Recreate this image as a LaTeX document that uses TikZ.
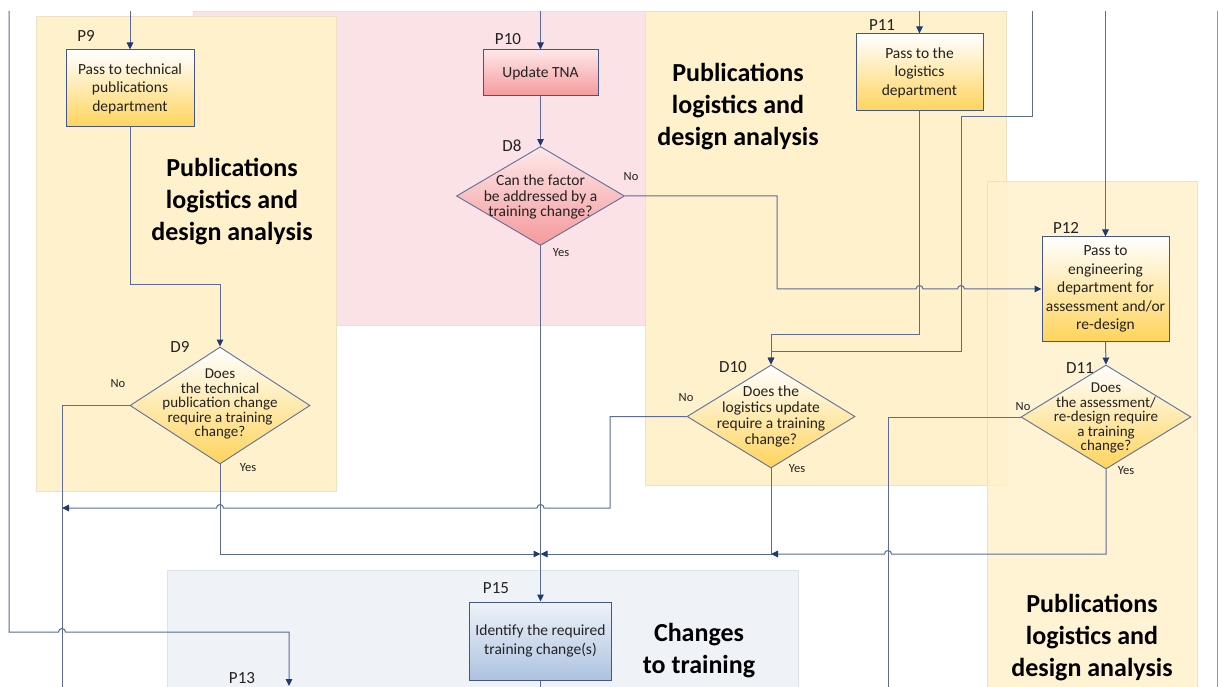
\documentclass[tikz,border=0pt]{standalone}
\usepackage{fontspec}
\setmainfont{Carlito}
\usetikzlibrary{shapes.geometric,arrows.meta}

\definecolor{bgyellow}{HTML}{FFF1CC}
\definecolor{bgpink}{HTML}{FBE2E6}
\definecolor{bgblue}{HTML}{EFF3F8}
\definecolor{edgeyellow}{HTML}{EDE1C3}
\definecolor{edgepink}{HTML}{F2DADD}
\definecolor{edgeblue}{HTML}{DDE2E8}
\definecolor{boxline}{HTML}{42568C}
\definecolor{flowline}{HTML}{5B6B9A}
\definecolor{tipcol}{HTML}{1F3A70}
\definecolor{goldlo}{HTML}{FFD45C}
\definecolor{pinklo}{HTML}{F5999B}
\definecolor{pinkhi}{HTML}{FDE8E9}
\definecolor{bluelo}{HTML}{ADC2E0}
\definecolor{bluehi}{HTML}{EEF3F9}
\definecolor{inktext}{HTML}{222222}

\begin{document}
\begin{tikzpicture}[x=1pt,y=-1pt,
  flow/.style={draw=flowline, line width=1pt},
  arr/.style={flow, -{Triangle[length=7pt,width=6.5pt,color=tipcol]}},
  procbox/.style={rectangle, draw=boxline, line width=1pt, inner sep=0pt,
    align=center, text=inktext, font=\fontsize{15.5}{18.5}\selectfont},
  decbox/.style={diamond, draw=boxline!85, line width=0.9pt, inner sep=0pt},
  dectext/.style={align=center, inner sep=0pt, text=inktext},
  goldfill/.style={top color=white, bottom color=goldlo},
  rosefill/.style={top color=pinkhi, bottom color=pinklo},
  bluefill/.style={top color=bluehi, bottom color=bluelo},
  idtag/.style={inner sep=0pt, text=inktext, font=\fontsize{17}{17}\selectfont},
  answer/.style={inner sep=0pt, text=inktext, font=\fontsize{12.5}{12.5}\selectfont},
  areatitle/.style={align=center, inner sep=0pt, font=\bfseries\fontsize{26}{32}\selectfont},
]
% page
\fill[white] (0,0) rectangle (1219,687);
\useasboundingbox (0,0) rectangle (1219,687);
\clip (0,0) rectangle (1219,687);

% swimlane areas
\filldraw[fill=bgpink, draw=edgepink] (193,11) rectangle (645,325);
\filldraw[fill=bgyellow, draw=edgeyellow] (36,16) rectangle (336,491);
\filldraw[fill=bgyellow, draw=edgeyellow] (645,11) rectangle (1006,485);
\filldraw[fill=bgyellow, fill opacity=0.85, draw=edgeyellow] (987,181) rectangle (1197,700);
\filldraw[fill=bgblue, draw=edgeblue] (167,570) rectangle (798,700);

% area titles
\node[areatitle] (ta) at (232,202) {Publications\\logistics and\\design analysis};
\node[areatitle] (tb) at (738,107) {Publications\\logistics and\\design analysis};
\node[areatitle] (tc) at (1092,638) {Publications\\logistics and\\design analysis};
\node[areatitle] (td) at (699,651) {Changes\\to training};

% process boxes
\node[procbox, goldfill, minimum width=128, minimum height=77] (p9) at (130,88.5)
  {Pass to technical\\publications\\department};
\node[procbox, rosefill, minimum width=115, minimum height=46] (p10) at (540.5,73)
  {Update TNA};
\node[procbox, goldfill, minimum width=127, minimum height=77] (p11) at (919.5,72.5)
  {Pass to the\\logistics\\department};
\node[procbox, goldfill, minimum width=127, minimum height=104] (p12) at (1105.5,289)
  {Pass to\\engineering\\department for\\assessment and/or\\re-design};
\node[procbox, bluefill, minimum width=142, minimum height=78] (p15) at (540.5,641)
  {Identify the required\\training change(s)};

% decisions
\node[decbox, rosefill, minimum width=168, minimum height=99] (d8) at (540.5,196) {};
\node[dectext, font=\fontsize{15.5}{15.5}\selectfont] (d8t) at (540.5,197)
  {Can the factor\\be addressed by a\\training change?};
\node[decbox, goldfill, minimum width=180, minimum height=117] (d9) at (220,405.5) {};
\node[dectext, font=\fontsize{15}{14.5}\selectfont] (d9t) at (220,404)
  {Does\\the technical\\publication change\\require a training\\change?};
\node[decbox, goldfill, minimum width=168, minimum height=103] (d10) at (771,416.5) {};
\node[dectext, font=\fontsize{15.5}{16}\selectfont] (d10t) at (771,416)
  {Does the\\logistics update\\require a training\\change?};
\node[decbox, goldfill, minimum width=170, minimum height=104] (d11) at (1106,417) {};
\node[dectext, font=\fontsize{15}{14.5}\selectfont] (d11t) at (1106,418)
  {Does\\the assessment/\\re-design require\\a training\\change?};

% identifiers
\node[idtag] (l9) at (86,36) {P9};
\node[idtag] (l10) at (508,39) {P10};
\node[idtag] (l11) at (882,25) {P11};
\node[idtag] (l12) at (1066,228) {P12};
\node[idtag] (l13) at (242,678) {P13};
\node[idtag] (l15) at (496,588) {P15};
\node[idtag] (ld8) at (512,146) {D8};
\node[idtag] (ld9) at (180,347) {D9};
\node[idtag] (ld10) at (733,367) {D10};
\node[idtag] (ld11) at (1080,368) {D11};

% branch answers
\node[answer] (n8) at (631,177) {No};
\node[answer] (y8) at (561,253) {Yes};
\node[answer] (n9) at (118,384) {No};
\node[answer] (y9) at (248,468) {Yes};
\node[answer] (n10) at (686,398) {No};
\node[answer] (y10) at (797,469) {Yes};
\node[answer] (n11) at (1023,407) {No};
\node[answer] (y11) at (1126,471) {Yes};

% free ends of connectors
\coordinate (inL) at (9,11);
\coordinate (in9) at (130,11);
\coordinate (in10) at (540.5,11);
\coordinate (in11) at (919.5,11);
\coordinate (inR) at (1032,11);
\coordinate (in12) at (1105.5,11);
\coordinate (edgeTop) at (1217,11);
\coordinate (edgeBot) at (1217,687);
\coordinate (outA) at (62,687);
\coordinate (outB) at (888,687);
\coordinate (outC) at (540.5,687);
\coordinate (p13) at (289,686);
\coordinate (m62) at (62,508);
\coordinate (j15) at (540.5,554);
\coordinate (j10) at (771,554);

% connectors
\draw[arr] (in9) -- (p9.north);
\draw[arr] (in10) -- (p10.north);
\draw[arr] (in11) -- (p11.north);
\draw[arr] (in12) -- (p12.north);
\draw[arr] (p10.south) -- (d8.north);
\draw[arr] (p12.south) -- (d11.north);
\draw[arr] (p9.south) -- (130,285) -- (220,285) -- (d9.north);
\draw[arr] (d8.south) -- (p15.north);
\draw[flow] (p15.south) -- (outC);
\draw[flow, draw=flowline!70] (edgeTop) -- (edgeBot);

% D8 "No" to P12, hopping over the two verticals
\draw[arr] (d8.east) -- (777,196) -- (777,289) -- (916,289)
  arc[start angle=180, end angle=360, radius=3.5] -- (957.5,289)
  arc[start angle=180, end angle=360, radius=3.5] -- (p12.west);

% P11 and the right-hand feed into D10
\draw[arr] (p11.south) -- (919.5,334) -- (771,334) -- (d10.north);
\draw[arr] (inR) -- (1032,117) -- (961,117) -- (961,351) -- (771,351) -- (d10.north);

% "No" branches
\draw[flow] (d9.west) -- (62,405.5) -- (outA);
\draw[arr] (d10.west) -- (610,416.5) -- (610,508) -- (544,508)
  arc[start angle=0, end angle=-180, radius=3.5] -- (223.5,508)
  arc[start angle=0, end angle=-180, radius=3.5] -- (m62);
\draw[flow] (d11.west) -- (888,417) -- (outB);

% "Yes" branches
\draw[arr] (d9.south) -- (220,554) -- (j15);
\draw[arr] (d10.south) -- (j10) -- (j15);
\draw[arr] (d11.south) -- (1106,554) -- (891.5,554)
  arc[start angle=0, end angle=-180, radius=3.5] -- (j10);

% outer loop down to P13
\draw[arr] (inL) -- (9,632) -- (58.5,632)
  arc[start angle=180, end angle=360, radius=3.5] -- (289,632) -- (p13);
\end{tikzpicture}
\end{document}
